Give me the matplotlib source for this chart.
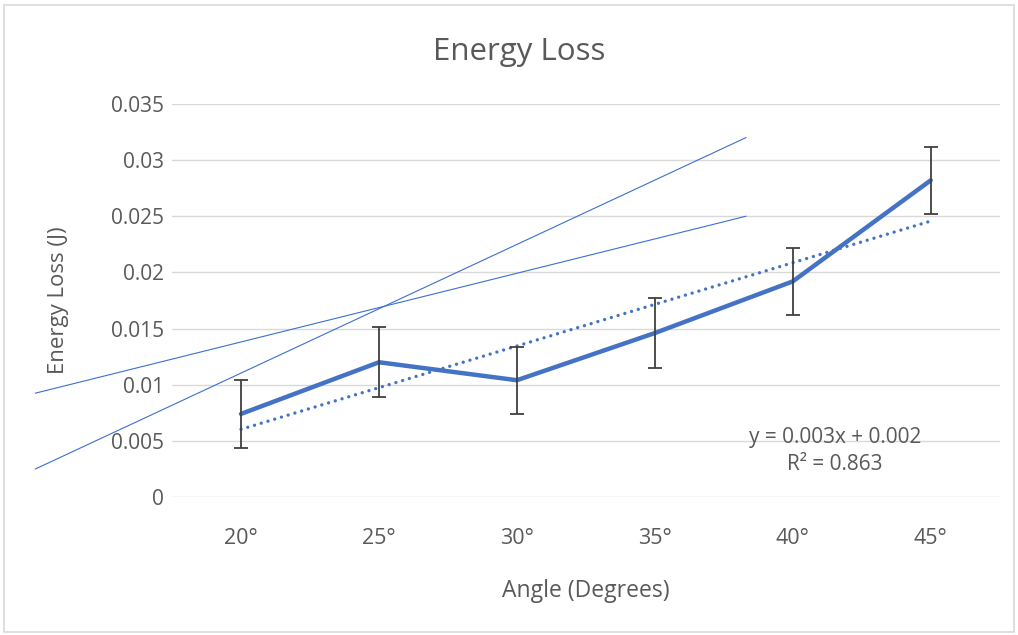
import matplotlib
matplotlib.use("Agg")
import matplotlib.pyplot as plt
import numpy as np
from matplotlib.patches import Rectangle

# ---- data ----
categories = ["20°", "25°", "30°", "35°", "40°", "45°"]
energy_loss = [0.0074, 0.0120, 0.0104, 0.0146, 0.0192, 0.0282]
error = [0.0030, 0.0031, 0.0030, 0.0031, 0.0030, 0.0030]
yticks = [0, 0.005, 0.01, 0.015, 0.02, 0.025, 0.03, 0.035]
ytick_labels = ["0", "0.005", "0.01", "0.015", "0.02", "0.025", "0.03", "0.035"]
# hand-drawn max/min slope lines (x in category-index units, y in J)
steep_x = [-1.49, 3.66]
steep_y = [0.00250, 0.03200]
shallow_x = [-1.49, 3.66]
shallow_y = [0.00925, 0.02500]
equation_text = "y = 0.003x + 0.002\nR² = 0.863"

plt.rcParams['font.family'] = ['Open Sans', 'DejaVu Sans']
text_color = "#595959"
blue = "#4472C4"

fig = plt.figure(figsize=(10.18, 6.35), dpi=100)
ax = fig.add_axes([0.169, 0.2173, 0.813, 0.619])

x = np.arange(len(categories))

ax.set_ylim(0, 0.035)
ax.set_xlim(-0.5, len(categories) - 0.5)
ax.set_yticks(yticks)
ax.set_yticklabels(ytick_labels)
ax.yaxis.grid(True, color="#D9D9D9", linewidth=1.0)
ax.set_axisbelow(True)
for s in ax.spines.values():
    s.set_visible(False)
ax.tick_params(axis='both', length=0, colors=text_color)
ax.tick_params(axis='y', pad=6, labelsize=15)
ax.tick_params(axis='x', pad=22, labelsize=15.5)
ax.set_xticks(x)
ax.set_xticklabels(categories)

# trendline (linear fit)
coef = np.polyfit(x + 1, energy_loss, 1)
ax.plot(x, np.polyval(coef, x + 1), color=blue, linewidth=2.4,
        linestyle=(0, (0.01, 2.1)), dash_capstyle='round', zorder=3)

# main line
ax.plot(x, energy_loss, color=blue, linewidth=3.2, zorder=4,
        solid_capstyle='round', solid_joinstyle='round')

# error bars
ax.errorbar(x, energy_loss, yerr=error, fmt='none', ecolor="#404040",
            elinewidth=1.3, capsize=4.8, capthick=1.3, zorder=5)

# slope lines
ax.plot(steep_x, steep_y, color="#3B6FD0", linewidth=0.8, clip_on=False, zorder=6)
ax.plot(shallow_x, shallow_y, color="#3B6FD0", linewidth=0.8, clip_on=False, zorder=6)

# equation
ax.text(4.304, 0.00409, equation_text, ha='center', va='center',
        fontsize=15, color=text_color, linespacing=1.4)

ax.set_xlabel("Angle (Degrees)", fontsize=16.5, color=text_color, labelpad=22)
ax.set_ylabel("Energy Loss (J)", fontsize=16, color=text_color, labelpad=30)
fig.text(0.51, 0.918, "Energy Loss", ha='center', va='center', fontsize=22.5,
         color=text_color)

# chart border
fig.patches.append(Rectangle((0.004, 0.004), 0.992, 0.988, transform=fig.transFigure,
                             fill=False, edgecolor="#D9D9D9", linewidth=1.2))

fig.savefig("out.png", dpi=100)
